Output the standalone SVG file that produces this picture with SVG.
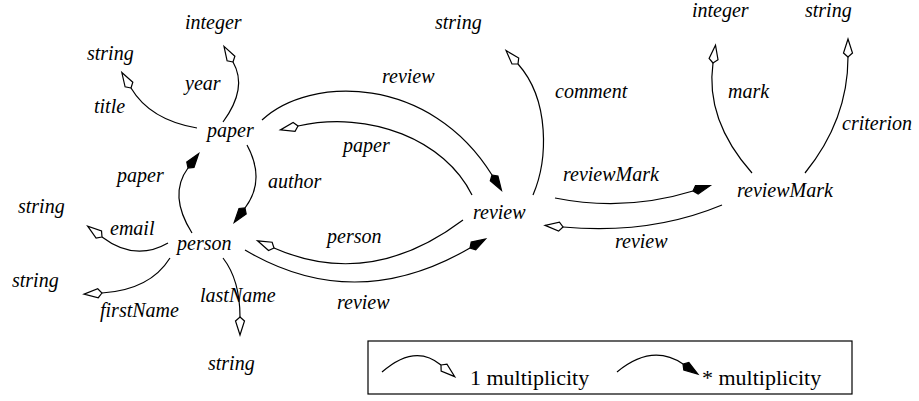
<svg xmlns="http://www.w3.org/2000/svg" width="919" height="401" viewBox="0 0 919 401" font-family="Liberation Serif, Times New Roman, serif">
<style>
.n,.l{font-style:italic;font-size:20px}
.lg{font-size:22px}
.c{fill:none;stroke:#000;stroke-width:1.2}
</style>
<defs>
<marker id="one" markerUnits="userSpaceOnUse" markerWidth="40" markerHeight="40" refX="0" refY="0" orient="auto" overflow="visible" viewBox="-20 -20 40 40">
<path d="M0,0 L4,-4.5 L18,0 L4,4.5 Z" fill="#fff" stroke="#000" stroke-width="1.2"/>
</marker>
<marker id="many" markerUnits="userSpaceOnUse" markerWidth="40" markerHeight="40" refX="0" refY="0" orient="auto" overflow="visible" viewBox="-20 -20 40 40">
<path d="M0,0 L4,-4.5 L18,0 L4,4.5 Z" fill="#000" stroke="#000" stroke-width="1.2"/>
</marker>
</defs>
<g id="connectors">
<path class="c" d="M197,128 Q150,120 131,88" marker-end="url(#one)"/>
<path class="c" d="M223,122 Q248,88 233,62" marker-end="url(#one)"/>
<path class="c" d="M262,120 C310,75 430,75 492,175" marker-end="url(#many)"/>
<path class="c" d="M472,195 C445,140 370,110 298,126" marker-end="url(#one)"/>
<path class="c" d="M247,145 Q266,180 245,208" marker-end="url(#many)"/>
<path class="c" d="M192,233 Q168,195 188,168" marker-end="url(#many)"/>
<path class="c" d="M168,243 Q135,262 102,237" marker-end="url(#one)"/>
<path class="c" d="M170,258 Q150,290 102,293" marker-end="url(#one)"/>
<path class="c" d="M223,258 Q240,280 240,317" marker-end="url(#one)"/>
<path class="c" d="M463,220 Q370,290 274,248" marker-end="url(#one)"/>
<path class="c" d="M245,250 Q355,315 470,248" marker-end="url(#many)"/>
<path class="c" d="M533,195 C548,160 550,100 518,64" marker-end="url(#one)"/>
<path class="c" d="M555,198 Q625,212 693,191" marker-end="url(#many)"/>
<path class="c" d="M722,205 Q650,235 563,227" marker-end="url(#one)"/>
<path class="c" d="M752,173 Q705,120 713,63" marker-end="url(#one)"/>
<path class="c" d="M805,173 Q848,120 848,57" marker-end="url(#one)"/>
</g>
<g id="labels" font-family="Liberation Serif, serif">
<text class="l" x="185" y="29">integer</text>
<text class="l" x="87" y="60">string</text>
<text class="l" x="185" y="90">year</text>
<text class="l" x="94" y="113">title</text>
<text class="l" x="117" y="182">paper</text>
<text class="l" x="268" y="188">author</text>
<text class="l" x="382" y="83">review</text>
<text class="l" x="343" y="152">paper</text>
<text class="l" x="435" y="29">string</text>
<text class="l" x="555" y="98">comment</text>
<text class="l" x="692" y="17">integer</text>
<text class="l" x="805" y="17">string</text>
<text class="l" x="728" y="98">mark</text>
<text class="l" x="842" y="130">criterion</text>
<text class="l" x="563" y="181">reviewMark</text>
<text class="l" x="615" y="248">review</text>
<text class="l" x="18" y="213">string</text>
<text class="l" x="110" y="235">email</text>
<text class="l" x="12" y="287">string</text>
<text class="l" x="100" y="317">firstName</text>
<text class="l" x="200" y="302">lastName</text>
<text class="l" x="208" y="370">string</text>
<text class="l" x="327" y="243">person</text>
<text class="l" x="337" y="309">review</text>
</g>
<g id="paper"><text class="n" x="207" y="137">paper</text></g>
<g id="person"><text class="n" x="177" y="250">person</text></g>
<g id="review"><text class="n" x="473" y="219">review</text></g>
<g id="reviewMark"><text class="n" x="737" y="197">reviewMark</text></g>
<g id="legend">
<rect x="368" y="341" width="484" height="53" fill="#fff" stroke="#000" stroke-width="1.2"/>
<path class="c" d="M382,372 Q415,343 441,365" marker-end="url(#one)"/>
<text class="lg" x="470" y="385">1 multiplicity</text>
<path class="c" d="M617,372 Q652,343 683,364" marker-end="url(#many)"/>
<text class="lg" x="702" y="385">* multiplicity</text>
</g>
</svg>
